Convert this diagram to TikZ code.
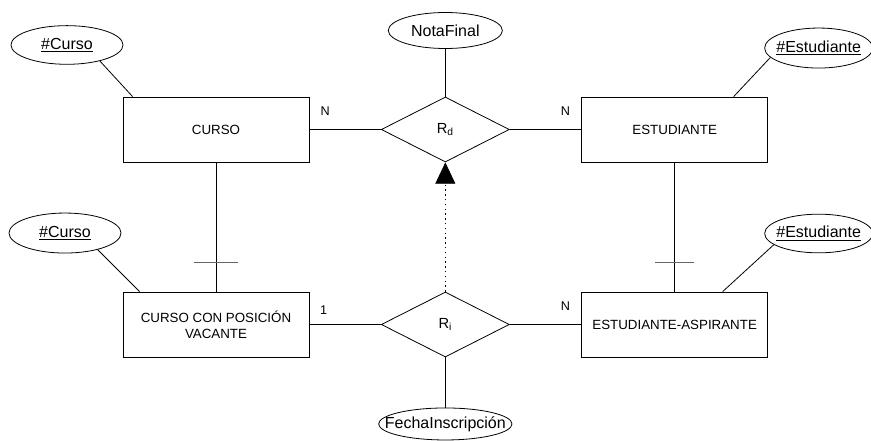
\documentclass[tikz,border=0pt]{standalone}
\usepackage{fontspec}
\setmainfont{Liberation Sans}
\usetikzlibrary{shapes.geometric, positioning, arrows.meta}
\tikzset{
  entity/.style={draw, rectangle, minimum width=139.5pt, minimum height=48.75pt,
    align=center, font=\fontsize{10}{12}\selectfont},
  relation/.style={draw, diamond, minimum width=96pt, minimum height=48.75pt,
    inner sep=0pt, font=\fontsize{11}{13}\selectfont},
  attrib/.style={draw, ellipse, minimum width=84pt, minimum height=29pt,
    inner xsep=-13pt, inner ysep=0pt, font=\fontsize{12}{14}\selectfont},
  card/.style={inner sep=0pt, font=\fontsize{9.5}{11}\selectfont},
  tickmark/.style={black!60},
  isa/.style={dash pattern=on 1pt off 2.6pt, -{Triangle[width=15pt,length=16pt]}}
}

\begin{document}
\begin{tikzpicture}[node distance=146.25pt and 172pt, on grid, line width=0.6pt]

  \useasboundingbox (-162pt,97.125pt) rectangle (491.25pt,-232.875pt);

  % entities and relationships
  \node[entity] (curso) {CURSO};
  \node[relation] (rd) [right=of curso] {R\textsubscript{d}};
  \node[entity] (estudiante) [right=of rd] {ESTUDIANTE};

  \node[entity] (cursovac) [below=of curso] {CURSO CON POSICIÓN\\VACANTE};
  \node[relation] (ri) [below=of rd] {R\textsubscript{i}};
  \node[entity] (aspirante) [below=of estudiante] {ESTUDIANTE-ASPIRANTE};

  % attributes
  \node[attrib, minimum width=85.5pt, minimum height=27pt] (nota)
    [above=74.25pt of rd] {NotaFinal};
  \node[attrib, minimum width=100pt, minimum height=24pt] (fecha)
    [below=74.6pt of ri] {FechaInscripción};
  \node[attrib] (idcurso)
    [above left=63.4pt and 111.75pt of curso] {\underline{\#Curso}};
  \node[attrib, minimum height=30pt] (idcursovac)
    [above left=68.6pt and 113.25pt of cursovac] {\underline{\#Curso}};
  \node[attrib, minimum width=81pt, minimum height=30pt] (idestud)
    [above right=61.1pt and 108pt of estudiante] {\underline{\#Estudiante}};
  \node[attrib, minimum width=81pt, minimum height=29pt] (idaspir)
    [above right=68.25pt and 108pt of aspirante] {\underline{\#Estudiante}};

  % relationship lines
  \draw (curso) -- node[card, pos=0.22, above=10pt] {N} (rd);
  \draw (rd) -- node[card, pos=0.78, above=10pt] {N} (estudiante);
  \draw (cursovac) -- node[card, pos=0.2, above=7.5pt] {1} (ri);
  \draw (ri) -- node[card, pos=0.78, above=10pt] {N} (aspirante);

  \draw[isa] (ri) -- (rd);

  % subset links
  \draw (curso) -- coordinate[pos=0.777] (t1) (cursovac);
  \draw (estudiante) -- coordinate[pos=0.777] (t2) (aspirante);
  \draw[tickmark] ([xshift=-16.5pt]t1) -- ([xshift=16.5pt]t1);
  \draw[tickmark] ([xshift=-14.5pt]t2) -- ([xshift=14.5pt]t2);

  % attribute lines
  \draw (nota) -- (rd);
  \draw (ri) -- (fecha);
  \draw (idcurso.-26) -- ([xshift=7.5pt]curso.north west);
  \draw (idcursovac.-27) -- ([xshift=12.75pt]cursovac.north west);
  \draw (idestud.-169) -- ([xshift=44.25pt]estudiante.north);
  \draw (idaspir.-166) -- ([xshift=36pt]aspirante.north);

\end{tikzpicture}
\end{document}
